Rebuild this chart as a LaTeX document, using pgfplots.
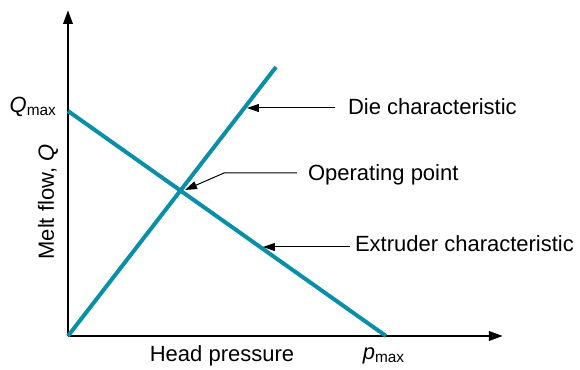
\documentclass[border=0pt]{standalone}
\usepackage{fontspec}
\setmainfont{Liberation Sans}
\usepackage{pgfplots}
\pgfplotsset{compat=1.18}
\usetikzlibrary{arrows.meta}
\definecolor{teal}{HTML}{0A8FA8}
\begin{document}
\begin{tikzpicture}
\begin{axis}[
  x=0.5pt, y=0.5pt,
  xmin=0, xmax=435,
  ymin=0, ymax=326,
  axis lines=left,
  axis line style={line width=1.4pt, -{Triangle[length=7pt,width=4.6pt]}},
  xtick=\empty, ytick=\empty,
  clip=false,
  font=\fontsize{11}{13}\selectfont,
]
% die characteristic
\addplot[teal, line width=2pt] coordinates {(0,0) (208,269)};
% extruder characteristic
\addplot[teal, line width=2pt] coordinates {(0,225) (318,0)};

\node[anchor=east] at (axis cs:-4,229) {\itshape Q\textsubscript{\normalfont max}};
\node[rotate=90] at (axis cs:-20,134) {Melt flow, \itshape Q};
\node at (axis cs:154,-20) {Head pressure};
\node at (axis cs:316,-20) {\itshape p\textsubscript{\normalfont max}};

\node[anchor=west] at (axis cs:273,229) {Die characteristic};
\draw[line width=0.5pt, -{Triangle[length=6pt,width=4pt]}] (axis cs:267,228) -- (axis cs:179,228);

\node[anchor=west] at (axis cs:233,161) {Operating point};
\draw[line width=0.5pt, -{Triangle[length=6pt,width=4pt]}] (axis cs:229,163) -- (axis cs:156,163) -- (axis cs:117,146);

\node[anchor=west] at (axis cs:280,92) {Extruder characteristic};
\draw[line width=0.5pt, -{Triangle[length=6pt,width=4pt]}] (axis cs:282,89) -- (axis cs:195,89);

\coordinate (bl) at (axis cs:-68,-34);
\coordinate (tr) at (axis cs:512,336);
\end{axis}
\pgfresetboundingbox
\path (bl) rectangle (tr);
\end{tikzpicture}
\end{document}
